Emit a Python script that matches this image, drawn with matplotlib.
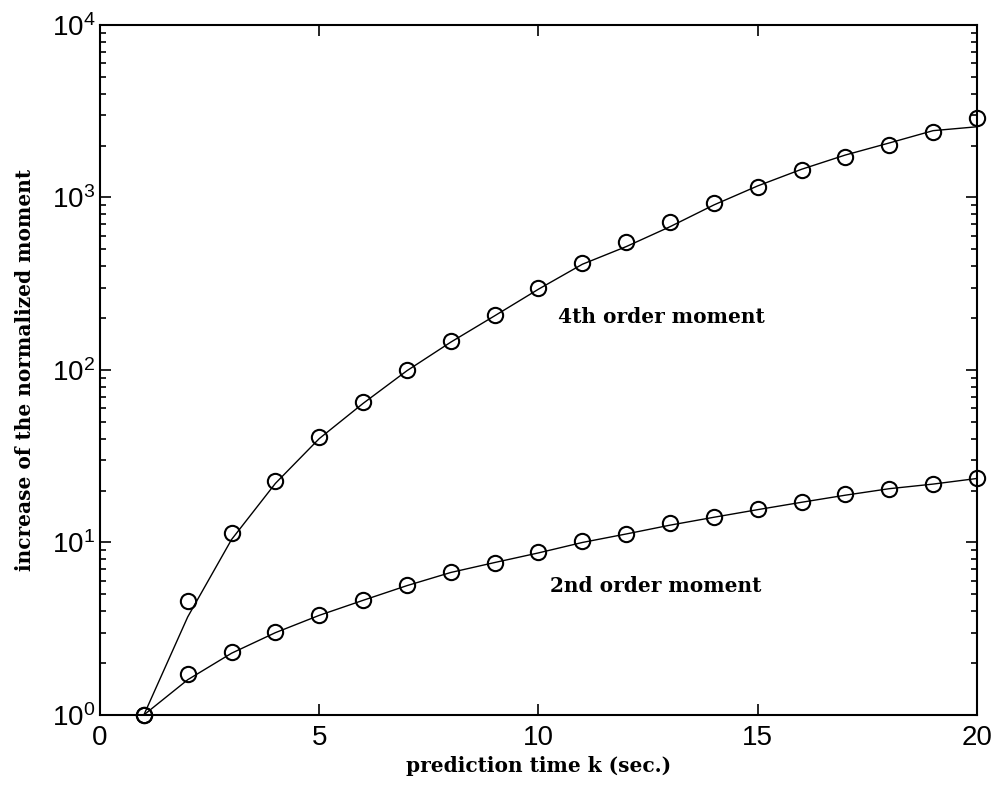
import numpy as np
import matplotlib.pyplot as plt

# prediction time k
k = np.arange(1, 21)

# measured values (circles)
m4 = [1, 4.6, 11.4, 22.7, 41, 65.5, 100, 147, 208, 298, 416, 554, 724, 925,
      1156, 1443, 1709, 2014, 2408, 2877]
m2 = [1, 1.72, 2.31, 3.04, 3.80, 4.64, 5.67, 6.72, 7.63, 8.75, 10.2, 11.2,
      12.9, 14.0, 15.6, 17.1, 19.0, 20.5, 21.7, 23.8]

# fitted curves (solid lines)
f4 = [1, 3.7, 10.4, 22, 40, 64, 99, 145, 206, 294, 410, 519, 677, 905,
      1167, 1457, 1763, 2070, 2440, 2570]
f2 = [1, 1.6, 2.28, 3.0, 3.78, 4.62, 5.62, 6.7, 7.65, 8.7, 10.0, 11.2,
      12.6, 14.0, 15.5, 17.1, 18.8, 20.5, 21.8, 23.5]

plt.rcParams['font.family'] = ['Liberation Sans', 'DejaVu Sans']
plt.rcParams['mathtext.fontset'] = 'custom'
plt.rcParams['mathtext.rm'] = 'Liberation Sans'

fig = plt.figure(figsize=(9.97, 7.93), dpi=100)
ax = fig.add_axes([0.1003, 0.0984, 0.8796, 0.8701])

ax.semilogy(k, f4, 'k-', lw=1.0)
ax.semilogy(k, f2, 'k-', lw=1.0)
ax.semilogy(k, m4, 'ko', mfc='none', ms=11, mew=1.5, clip_on=False)
ax.semilogy(k, m2, 'ko', mfc='none', ms=11, mew=1.5, clip_on=False)

ax.set_xlim(0, 20)
ax.set_ylim(1, 1e4)
ax.set_xticks([0, 5, 10, 15, 20])
ax.tick_params(which='both', direction='in', top=True, right=True,
               labelsize=20, width=1.2)
ax.tick_params(which='major', length=8)
ax.tick_params(which='minor', length=4)
ax.tick_params(axis='x', pad=7)
for s in ax.spines.values():
    s.set_linewidth(1.5)

tfont = dict(family='DejaVu Serif', weight='bold', fontsize=14.5)
ax.text(10.44, 203, '4th order moment', va='center', ha='left', **tfont)
ax.text(10.26, 5.62, '2nd order moment', va='center', ha='left', **tfont)

ax.set_xlabel('prediction time k (sec.)', labelpad=4, **tfont)
ax.set_ylabel('increase of the normalized moment', labelpad=12, **tfont)

fig.savefig('out.png', dpi=100)
